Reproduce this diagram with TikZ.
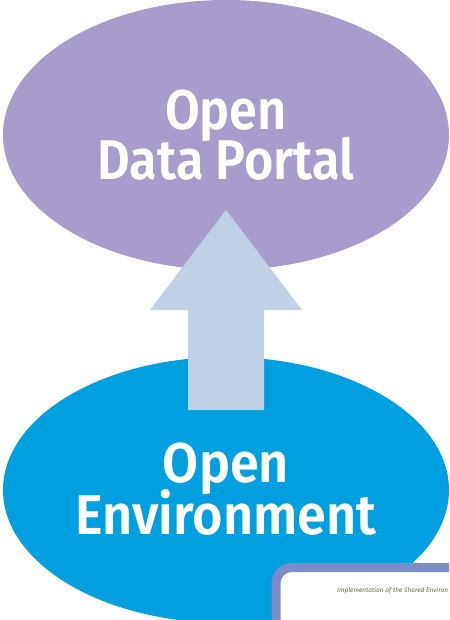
\documentclass[tikz,border=0pt]{standalone}
\usepackage{fontspec}
\setmainfont{Fira Sans}
\newfontfamily\bigfont{Fira Sans SemiBold}
\definecolor{portalc}{HTML}{A89CCC}
\definecolor{envc}{HTML}{00A0E0}
\definecolor{arrowc}{HTML}{C0D0E6}
\definecolor{framec}{HTML}{7B8CC8}
\definecolor{smallc}{HTML}{5F7040}
\tikzset{
  bubble/.style={ellipse,minimum width=446pt,inner sep=0pt},
  bigtext/.style={text=white,font=\bigfont\fontsize{56}{51}\selectfont,align=center,inner sep=0pt,xscale=0.9},
}
\usetikzlibrary{shapes.geometric}
\begin{document}
\begin{tikzpicture}[x=1pt,y=-1pt]
\useasboundingbox (0,0) rectangle (449,620);
\clip (0,0) rectangle (449,620);
\node[bubble,fill=portalc,minimum height=270pt] (portal) at (226,135) {};
\node[bubble,fill=envc,minimum height=266pt] (env) at (226,490) {};
\node[bigtext] (portaltext) at (226,135) {Open\\[-6pt]Data Portal};
\node[bigtext,xscale=1.035] (envtext) at (226,489) {Open\\[-6pt]Environment};
\fill[arrowc] (226,210) -- (302,310) -- (264,310) -- (264,410) -- (188,410) -- (188,310) -- (150,310) -- cycle;
\draw[framec,line width=9pt,fill=white,rounded corners=16pt] (276,640) -- (276,567.5) -- (470,567.5) -- (470,640) -- cycle;
\node[text=smallc,font=\fontsize{6.5}{7}\selectfont\itshape,anchor=west,inner sep=0pt] (cardtext) at (337,591) {Implementation of the Shared Environ};
\end{tikzpicture}
\end{document}
